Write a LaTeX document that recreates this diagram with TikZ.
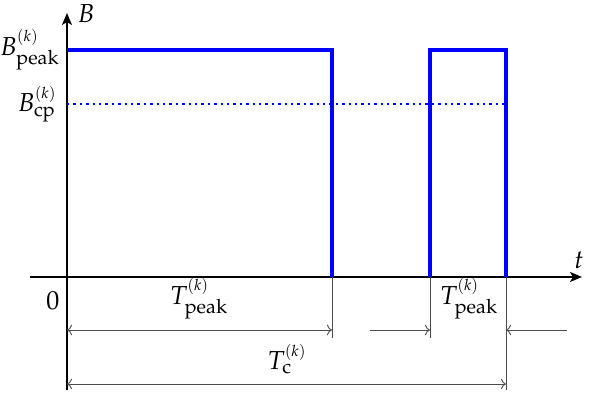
\documentclass[tikz,border=0pt]{standalone}
\usepackage{mathpazo}
\usetikzlibrary{arrows.meta}
\newcommand{\kk}{{\scriptscriptstyle(k)}}
\tikzset{
  axis/.style = {line width = 0.8pt, -{Stealth[length = 6pt, width = 5pt, inset = 1.5pt]}},
  pulse/.style = {blue, line width = 1.7pt},
  dim/.style = {black!70, line width = 0.45pt},
  dimarrow/.style = {dim, {To[length = 2.5pt]}-{To[length = 2.5pt]}},
  every node/.style = {font = \fontsize{13}{15}\selectfont}
}
\begin{document}
\begin{tikzpicture}[x = 0.5pt, y = -0.5pt]
						\useasboundingbox (0, 0) rectangle (602, 394);
						\coordinate (o)  at (67, 277);
						\coordinate (a1) at (332, 277);
						\coordinate (a2) at (430, 277);
						\coordinate (a3) at (506, 277);
						% axes
						\draw [axis] (30, 277) -- (582, 277);
						\draw [axis] (67, 390) -- (67, 13);
						\node [inner sep = 0pt] (t) at (579, 260) {$t$};
						\node [inner sep = 0pt] (b) at (86, 14) {$B$};
						\node [anchor = east, inner sep = 0pt] (bpeak) at (60, 50) {$B_{\mathrm{peak}}^{\kk}$};
						\node [anchor = east, inner sep = 0pt] (bcp) at (57, 104) {$B_{\mathrm{cp}}^{\kk}$};
						\node [inner sep = 0pt] (zero) at (53, 301) {$0$};
						% pulses
						\draw [pulse] (o |- 0, 50) -- (a1 |- 0, 50) -- (a1);
						\draw [pulse] (a2) -- (a2 |- 0, 50) -- (a3 |- 0, 50) -- (a3);
						\draw [blue, line width = 1.2pt, dotted] (o |- 0, 104) -- (a3 |- 0, 104);
						% dimensions
						\draw [dim] (a1) -- (332, 338);
						\draw [dim] (a2) -- (430, 338);
						\draw [dim] (a3) -- (506, 390);
						\draw [dimarrow] (67, 330) -- (332, 330);
						\draw [dim, -{To[length = 2.5pt]}] (370, 330) -- (430, 330);
						\draw [dim, -{To[length = 2.5pt]}] (567, 330) -- (506, 330);
						\draw [dimarrow] (67, 384) -- (506, 384);
						\node (tpeak1) at (199, 299) {$T_{\mathrm{peak}}^{\kk}$};
						\node (tpeak2) at (469, 299) {$T_{\mathrm{peak}}^{\kk}$};
						\node (tc) at (287, 359) {$T_{\mathrm{c}}^{\kk}$};
					\end{tikzpicture}
\end{document}
